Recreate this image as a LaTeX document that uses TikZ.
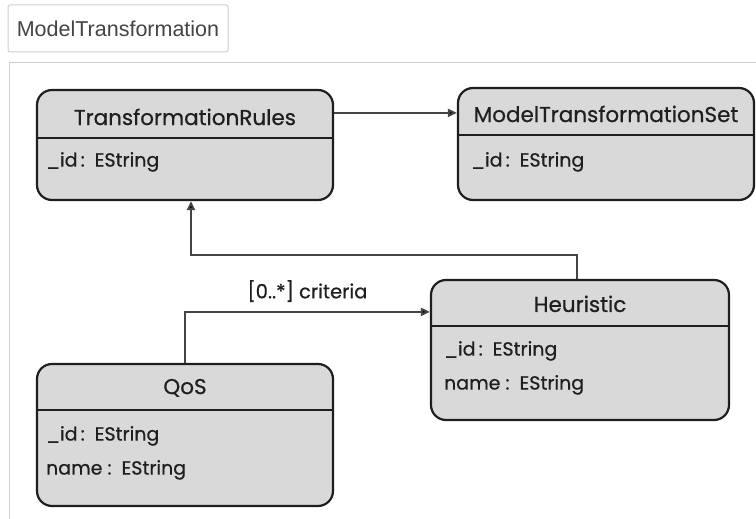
\documentclass[tikz,border=0pt]{standalone}
\usepackage{fontspec}
\setmainfont{Poppins}
\newfontfamily\umlfont{Poppins}[FakeBold=0.6]
\newfontfamily\uifont{Liberation Sans}
\usetikzlibrary{arrows.meta,calc}

\definecolor{boxfill}{HTML}{D9D9D9}
\definecolor{boxline}{HTML}{1E1E1E}
\definecolor{wireline}{HTML}{444444}
\definecolor{frameline}{HTML}{CFCFCF}
\definecolor{tabtext}{HTML}{444444}

\tikzset{
  x=1pt, y=1pt,
  classbox/.style={draw=boxline, line width=2.2pt, fill=boxfill,
    rounded corners=15pt, inner sep=0pt},
  divider/.style={draw=boxline, line width=1.3pt},
  classname/.style={font=\umlfont\fontsize{21.5}{23}\selectfont, text=black!88, inner sep=0pt},
  attr/.style={font=\umlfont\fontsize{19}{21}\selectfont, text=black!88, inner sep=0pt, anchor=west},
  assoc/.style={draw=wireline, line width=1.9pt,
    -{Triangle[length=9pt,width=8pt,fill=black]}},
  rolelabel/.style={font=\umlfont\fontsize{19.5}{21}\selectfont, text=black!88, inner sep=0pt}
}

\begin{document}
\begin{tikzpicture}
\useasboundingbox (0,0) rectangle (756,-519);

% page tab and diagram frame
\node[draw=frameline, line width=1pt, rounded corners=2pt, fill=white,
  minimum width=220pt, minimum height=47pt, inner sep=0pt,
  font=\uifont\fontsize{21.5}{23}\selectfont, text=tabtext] (tab) at (118,-28.5) {ModelTransformation};
\coordinate (fbl) at (9,-519);
\coordinate (ftl) at (9,-63);
\coordinate (ftr) at (756,-63);
\draw[frameline, line width=1pt] (fbl) -- (ftl) -- (ftr);

% classes
\node[classbox, minimum width=296pt, minimum height=110pt] (tr) at (185,-145) {};
\node[classbox, minimum width=296pt, minimum height=112pt] (mts) at (606,-144) {};
\node[classbox, minimum width=298pt, minimum height=140pt] (heu) at (580,-350) {};
\node[classbox, minimum width=296pt, minimum height=142pt] (qos) at (185,-435) {};

% compartment dividers
\draw[divider] ([yshift=-49pt]tr.north west) -- ([yshift=-49pt]tr.north east);
\draw[divider] ([yshift=-48pt]mts.north west) -- ([yshift=-48pt]mts.north east);
\draw[divider] ([yshift=-47pt]heu.north west) -- ([yshift=-47pt]heu.north east);
\draw[divider] ([yshift=-47pt]qos.north west) -- ([yshift=-47pt]qos.north east);

% class names
\node[classname] (trname) at ([yshift=-28pt]tr.north) {TransformationRules};
\node[classname] (mtsname) at ([yshift=-27pt]mts.north) {ModelTransformationSet};
\node[classname] (heuname) at ([yshift=-25pt]heu.north) {Heuristic};
\node[classname] (qosname) at ([yshift=-25pt]qos.north) {QoS};

% attributes
\node[attr] (trid) at ([xshift=10pt,yshift=-73pt]tr.north west) {\_id\,:\hspace{10pt}EString};
\node[attr] (mtsid) at ([xshift=14pt,yshift=-75pt]mts.north west) {\_id\,:\hspace{10pt}EString};
\node[attr] (heuid) at ([xshift=14pt,yshift=-72pt]heu.north west) {\_id\,:\hspace{10pt}EString};
\node[attr] (heuname2) at ([xshift=14pt,yshift=-106pt]heu.north west) {name :\hspace{10pt}EString};
\node[attr] (qosid) at ([xshift=10pt,yshift=-73pt]qos.north west) {\_id\,:\hspace{10pt}EString};
\node[attr] (qosname2) at ([xshift=10pt,yshift=-107pt]qos.north west) {name :\hspace{10pt}EString};

% associations
\draw[assoc] ([yshift=-24pt]tr.north east) -- ([yshift=-24pt]tr.north east -| mts.west);

\coordinate (hup) at ($(heu.north)+(-3,24)$);
\coordinate (trin) at ($(tr.south)+(6,0)$);
\draw[assoc] ([xshift=-3pt]heu.north) -- (hup) -- (hup -| trin) -- (trin);

\coordinate (qup) at ($(qos.north)+(0,51)$);
\draw[assoc] (qos.north) -- (qup) -- (qup -| heu.west)
  node[rolelabel, pos=0.5, above=9pt] (crit) {[0..*] criteria};
\end{tikzpicture}
\end{document}
